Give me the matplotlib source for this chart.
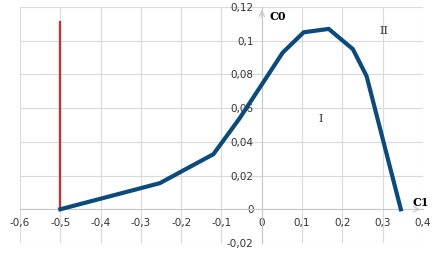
import matplotlib.pyplot as plt
from matplotlib.ticker import FuncFormatter

# curve data
c1 = [-0.5, -0.253, -0.12, -0.055, 0.0, 0.052, 0.104, 0.166, 0.226, 0.26, 0.345]
c0 = [0.0, 0.0155, 0.0327, 0.054, 0.074, 0.093, 0.105, 0.107, 0.095, 0.079, 0.0]
red_x = [-0.5, -0.5]
red_y = [0.0, 0.111]

xticks = [-0.6, -0.5, -0.4, -0.3, -0.2, -0.1, 0, 0.1, 0.2, 0.3, 0.4]
yticks = [-0.02, 0, 0.02, 0.04, 0.06, 0.08, 0.1, 0.12]

fig = plt.figure(figsize=(4.39, 2.60), dpi=100)
ax = fig.add_axes([20/439, 1 - 243/260, 403/439, 236/260])

ax.plot(red_x, red_y, color='#d42a2a', lw=1.6, zorder=3)
ax.plot(c1, c0, color='#0b4a7c', lw=3.0, solid_joinstyle='miter', zorder=4)

ax.set_xlim(-0.6, 0.4)
ax.set_ylim(-0.02, 0.12)
ax.set_xticks(xticks)
ax.set_yticks(yticks)

def fmt(v, pos):
    s = ('%g' % round(v, 2)).replace('.', ',')
    return s
ax.xaxis.set_major_formatter(FuncFormatter(fmt))
ax.yaxis.set_major_formatter(FuncFormatter(fmt))

ax.grid(True, color='#dadada', lw=0.8)
ax.set_axisbelow(True)
for s in ['top', 'right']:
    ax.spines[s].set_visible(False)
ax.spines['left'].set_position(('data', 0))
ax.spines['bottom'].set_position(('data', 0))
ax.spines['left'].set_color('#c8c8c8')
ax.spines['bottom'].set_color('#c8c8c8')
ax.tick_params(length=0, labelsize=7.5, labelcolor='#333333', pad=6)

# axis arrows
ax.annotate('', xy=(0.4, 0), xytext=(0.37, 0),
            arrowprops=dict(arrowstyle='->', color='#c8c8c8', lw=0.8))
ax.annotate('', xy=(0, 0.12), xytext=(0, 0.112),
            arrowprops=dict(arrowstyle='->', color='#c8c8c8', lw=0.8))

ax.text(0.02, 0.112, 'C0', fontfamily='DejaVu Serif', fontweight='bold', fontsize=8)
ax.text(0.373, 0.002, 'C1', fontfamily='DejaVu Serif', fontweight='bold', fontsize=8)
ax.text(0.292, 0.104, 'II', fontfamily='DejaVu Serif', fontsize=8, color='#333333')
ax.text(0.14, 0.052, 'I', fontfamily='DejaVu Serif', fontsize=8, color='#333333')

fig.savefig('out.png', dpi=100)
